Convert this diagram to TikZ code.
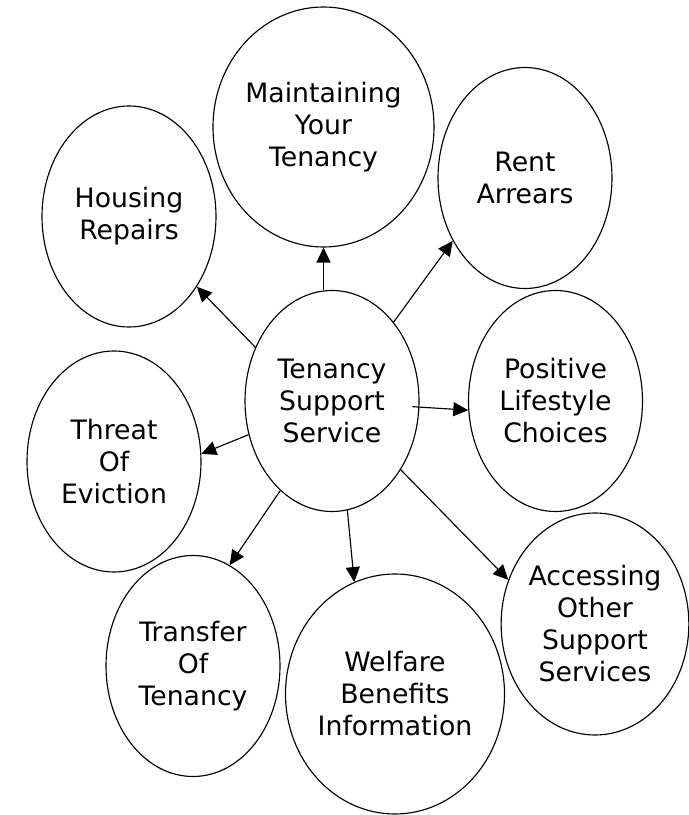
\documentclass[tikz,border=0pt]{standalone}
\usepackage{fontspec}
\setmainfont{DejaVu Sans}
\usetikzlibrary{arrows.meta,shapes.geometric}
\begin{document}
\begin{tikzpicture}[
  bub/.style={draw,ellipse,line width=0.65pt,inner sep=0pt,align=center,
    minimum width=3.48cm,minimum height=4.42cm,font=\fontsize{15.2}{18.2}\selectfont},
  big/.style={bub,minimum width=4.38cm,minimum height=4.8cm},
  arr/.style={-{Triangle[length=8.5pt,width=8pt]},line width=0.65pt}]
\useasboundingbox (0,0) rectangle (13.78,16.3);
\node[bub] (tss) at (6.64,8.28) {Tenancy\\Support\\Service};
\node[big] (mnt) at (6.47,13.76) {Maintaining\\Your\\Tenancy};
\node[bub] (rent) at (10.50,12.74) {Rent\\Arrears};
\node[bub] (hsg) at (2.58,11.97) {Housing\\Repairs};
\node[bub] (pos) at (11.11,8.28) {Positive\\Lifestyle\\Choices};
\node[bub] (thr) at (2.28,7.07) {Threat\\Of\\Eviction};
\node[bub] (trf) at (3.86,2.98) {Transfer\\Of\\Tenancy};
\node[big] (wlf) at (7.90,2.42) {Welfare\\Benefits\\Information};
\node[bub,minimum width=3.64cm,minimum height=4.44cm] (acc) at (11.90,3.82) {Accessing\\Other\\Support\\Services};
\draw[arr] (tss.north -| mnt.south) -- (mnt.south);
\draw[arr] (tss.52) -- (rent.221);
\draw[arr,shorten <=-0.14cm] (tss.-4) -- (pos.186);
\draw[arr] (tss.145) -- (hsg.314);
\draw[arr] (tss.202) -- (thr.5);
\draw[arr] (tss.240) -- (trf.70);
\draw[arr] (tss.278) -- (wlf.110);
\draw[arr] (tss.315) -- (acc.153);
\end{tikzpicture}
\end{document}
